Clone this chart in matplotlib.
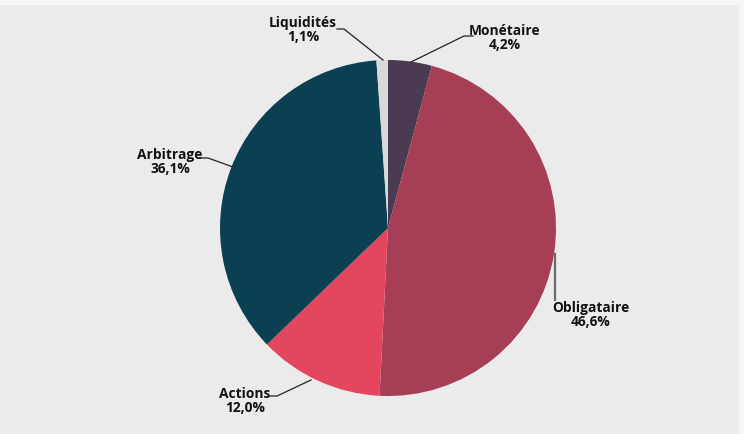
import matplotlib.pyplot as plt

# repartition du portefeuille (sens horaire depuis le haut)
categories = ["Monétaire", "Obligataire", "Actions", "Arbitrage", "Liquidités"]
values = [4.2, 46.6, 12.0, 36.1, 1.1]
value_labels = ["4,2%", "46,6%", "12,0%", "36,1%", "1,1%"]
colors = ["#4a3a52", "#a63f55", "#e4475d", "#0b3f52", "#d9d9d9"]

H = 434

fig = plt.figure(figsize=(7.44, 4.34), dpi=100)
fig.patch.set_facecolor("#f6f6f6")
ax = fig.add_axes([0, 0, 739 / 744, 429 / 434])
ax.add_patch(plt.Rectangle((0, 0), 739, 429, color="#ebebeb", zorder=0))

ax.pie(values, colors=colors, startangle=90, counterclock=False,
       center=(388, H - 228), radius=168, frame=True,
       wedgeprops=dict(linewidth=0))
ax.set_xlim(0, 739)
ax.set_ylim(0, 429)
ax.set_aspect("equal")
ax.axis("off")

# label position (text centre, px from top) and leader line points
label_pos = {
    "Liquidités": (303, 30),
    "Monétaire": (505, 38),
    "Obligataire": (591, 315),
    "Actions": (245, 401),
    "Arbitrage": (170, 162),
}
leaders = {
    "Liquidités": [(337, 29), (344, 29), (383, 60)],
    "Monétaire": [(473, 36), (464, 36), (411, 62)],
    "Obligataire": [(555, 300), (555, 254)],
    "Actions": [(270, 396), (277, 396), (311, 380)],
    "Arbitrage": [(200, 158), (208, 158), (233, 167)],
}

for cat, lab in zip(categories, value_labels):
    x, y = label_pos[cat]
    ax.text(x, H - y, cat + "\n" + lab, ha="center", va="center",
            fontsize=9.9, fontweight="bold", family="Open Sans",
            color="#111111", linespacing=1.02)
    pts = leaders[cat]
    lw = 1.6 if cat == "Obligataire" else 0.9
    lc = "#6a6a6a" if cat == "Obligataire" else "#222222"
    ax.plot([p[0] for p in pts], [H - p[1] for p in pts], color=lc, lw=lw)

fig.savefig("out.png", dpi=100, facecolor=fig.get_facecolor())
